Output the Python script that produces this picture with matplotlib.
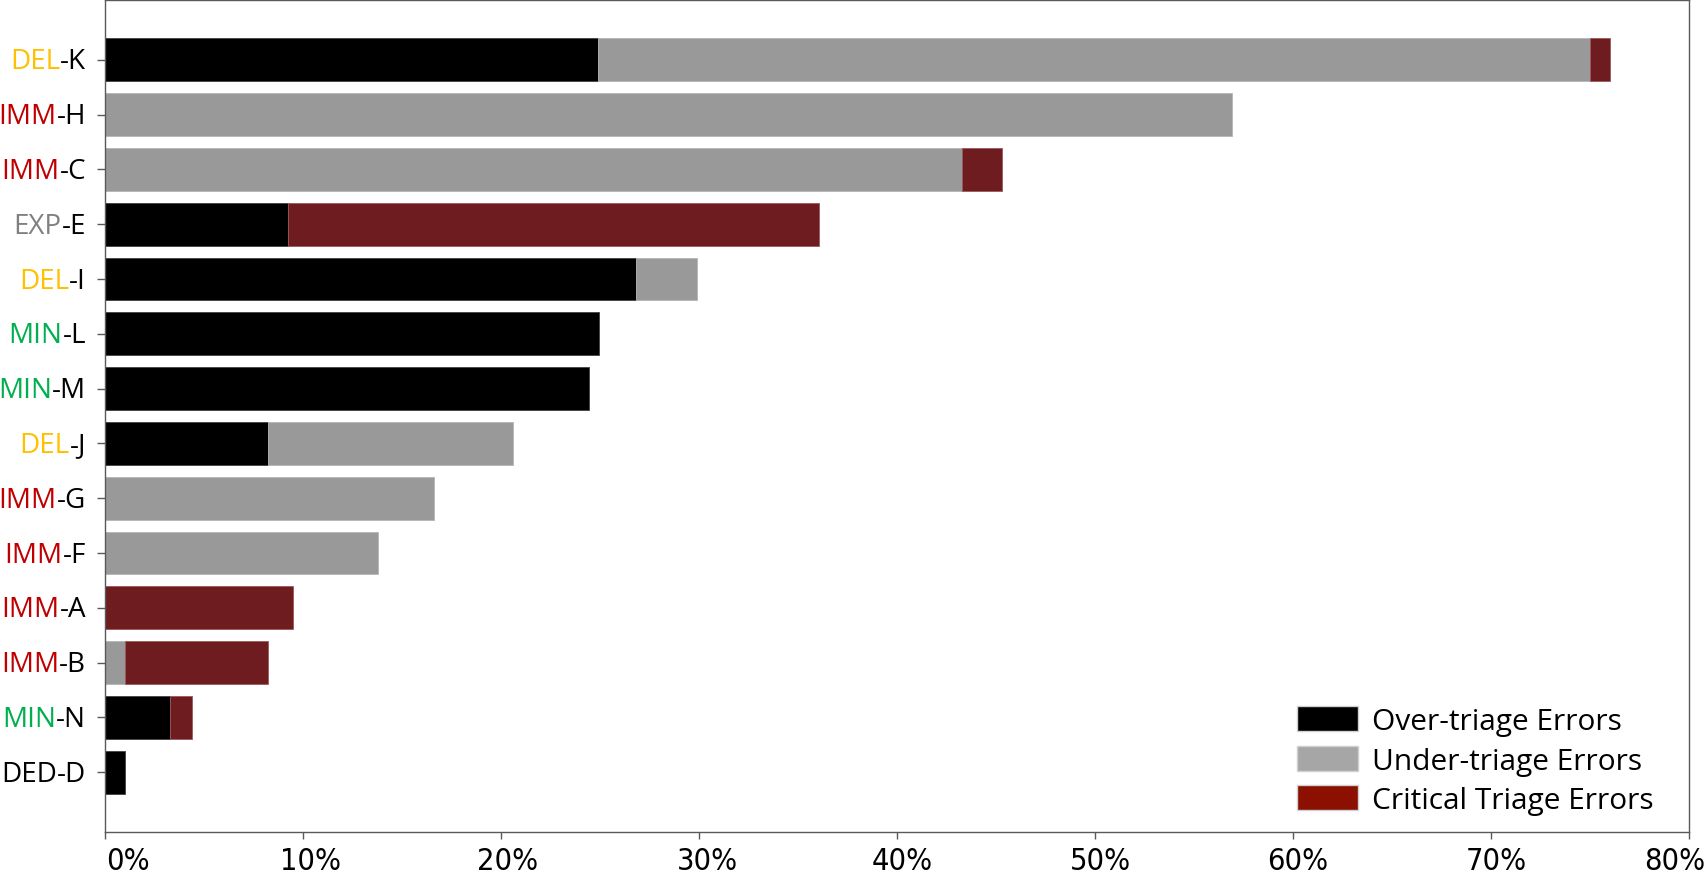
import numpy as np
import matplotlib
matplotlib.use("Agg")
import matplotlib.pyplot as plt
from matplotlib.patches import Patch
from matplotlib.transforms import ScaledTranslation

# categories, top to bottom
groups = ['DEL', 'IMM', 'IMM', 'EXP', 'DEL', 'MIN', 'MIN', 'DEL', 'IMM', 'IMM', 'IMM', 'IMM', 'MIN', 'DED']
codes = ['K', 'H', 'C', 'E', 'I', 'L', 'M', 'J', 'G', 'F', 'A', 'B', 'N', 'D']

# percentages of cases
over_triage = [24.9, 0, 0, 9.25, 26.8, 24.95, 24.45, 8.25, 0, 0, 0, 0, 3.27, 1.0]
under_triage = [50.1, 56.9, 43.3, 0, 3.1, 0, 0, 12.35, 16.6, 13.8, 0, 1.0, 0, 0]
critical = [1.0, 0, 2.0, 26.8, 0, 0, 0, 0, 0, 0, 9.5, 7.25, 1.1, 0]

x_ticks = [0, 10, 20, 30, 40, 50, 60, 70, 80]

group_colors = {
    'DEL': '#FFC000',
    'IMM': '#C00000',
    'EXP': '#808080',
    'MIN': '#00B050',
    'DED': '#000000',
}
colors = {'over': '#000000', 'under': '#999999', 'critical': '#6E1C1F'}
legend_colors = {'over': '#000000', 'under': '#A6A6A6', 'critical': '#8B1000'}
spine_color = '#595959'

label_font = ['Open Sans', 'DejaVu Sans']

fig = plt.figure(figsize=(17.08, 8.87), dpi=100)
ax = fig.add_axes([105 / 1708, 54 / 887, 1584 / 1708, 832 / 887])

y = np.arange(len(codes))
over = np.array(over_triage)
under = np.array(under_triage)
crit = np.array(critical)
h = 0.78


def lw(vals):
    # no outline on empty segments
    return np.where(vals > 0, 0.6, 0.0)


ax.barh(y, over, height=h, color=colors['over'], edgecolor='#404040', linewidth=lw(over))
ax.barh(y, under, left=over, height=h, color=colors['under'], edgecolor='#b5b5b5', linewidth=lw(under))
ax.barh(y, crit, left=over + under, height=h, color=colors['critical'], edgecolor='#9a5a5c',
        linewidth=lw(crit))

ax.set_xlim(0, 80)
ax.set_ylim(len(codes) - 1 + 1.09, -1.09)

ax.set_xticks(x_ticks)
ax.set_xticklabels([f'{v}%' for v in x_ticks], family='DejaVu Sans', stretch='condensed', fontsize=22)
ax.tick_params(axis='x', direction='out', length=5, width=1, color=spine_color, pad=5)
# nudge tick labels like the original (first pushed right, last kept inside the figure)
nudge_px = [23, 8, 7, 8, 5, 5, 5, 5, -14]
for lab, dx in zip(ax.get_xticklabels(), nudge_px):
    lab.set_transform(lab.get_transform() + ScaledTranslation(dx / 100, 0, fig.dpi_scale_trans))

ax.set_yticks(y)
ax.set_yticklabels([])
ax.tick_params(axis='y', direction='out', length=6, width=1, color=spine_color)

for s in ax.spines.values():
    s.set_color(spine_color)
    s.set_linewidth(1)

# two-colour category labels: coloured group prefix + black "-code"
trans = ax.get_yaxis_transform()
for i, (g, c) in enumerate(zip(groups, codes)):
    suffix = ax.text(-19 / 1584, i + 0.03, f'-{c}', transform=trans, ha='right', va='center',
                     fontsize=20, family=label_font, color='black')
    ax.annotate(g, xy=(0, 0), xycoords=suffix, ha='right', va='bottom',
                fontsize=20, family=label_font, color=group_colors[g],
                annotation_clip=False)

handles = [
    Patch(facecolor=legend_colors['over'], edgecolor='#d0d0d0', label='Over-triage Errors'),
    Patch(facecolor=legend_colors['under'], edgecolor='#d0d0d0', label='Under-triage Errors'),
    Patch(facecolor=legend_colors['critical'], edgecolor='#d0d0d0', label='Critical Triage Errors'),
]
ax.legend(handles=handles, loc='lower right', frameon=False,
          prop={'family': label_font, 'size': 21.5},
          handlelength=2.05, handleheight=0.9, handletextpad=0.45, labelspacing=0.33,
          borderaxespad=0, bbox_to_anchor=(0.985, 0.006))

fig.savefig('out.png', dpi=100)
